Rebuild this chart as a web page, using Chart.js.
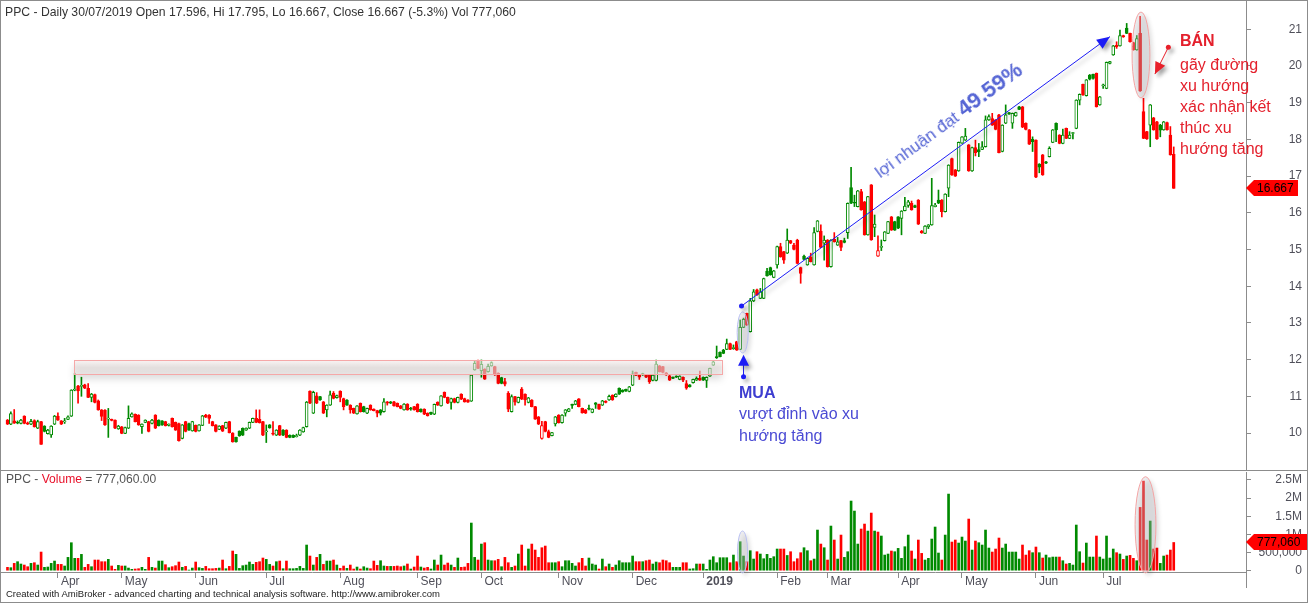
<!DOCTYPE html>
<html>
<head>
<meta charset="utf-8">
<script src="https://cdn.jsdelivr.net/npm/chart.js@4.4.1/dist/chart.umd.min.js"></script>
<style>
  body { margin: 0; background: #fff; }
  #wrap { position: relative; width: 1308px; height: 603px; overflow: hidden; background: #fff;
          font-family: Arial, "Liberation Sans", sans-serif; }
  #wrap canvas { position: absolute; left: 0; }
  #priceCanvas { top: 0; }
  #volCanvas { top: 471px; }
  #frame { position: absolute; left: 0; top: 0; width: 1308px; height: 603px; box-sizing: border-box;
           border: 1px solid #8c8c8c; pointer-events: none; }
  .txt { position: absolute; white-space: nowrap; }
  #hdr { left: 5px; top: 5px; font-size: 12.2px; line-height: 14px; color: #333; }
  #volTitle { left: 6px; top: 472px; font-size: 12.1px; line-height: 14px; color: #555; }
  #volTitle b { font-weight: normal; color: #e8102a; }
  #footer { left: 6px; top: 589px; font-size: 9.5px; line-height: 10px; color: #222; }
  #gain { left: 885px; top: 157px; line-height: 26px; color: #5464d4; transform: rotate(-36.3deg); transform-origin: 0 100%; }
  #gain .g1 { font-size: 17px; }
  #gain .g2 { font-size: 22px; font-weight: bold; }
  #mua { left: 739px; top: 384px; font-size: 16px; line-height: 18px; font-weight: bold; color: #3d3dd0; }
  #muaTxt { left: 739px; top: 403px; font-size: 16px; line-height: 22px; color: #4a4ad4; }
  #ban { left: 1180px; top: 32px; font-size: 16px; line-height: 18px; font-weight: bold; color: #e4202c; }
  #banTxt { left: 1180px; top: 54px; font-size: 16px; line-height: 21px; color: #e4202c; }
</style>
</head>
<body>
<div id="wrap">
  <canvas id="priceCanvas" width="1308" height="471"></canvas>
  <canvas id="volCanvas" width="1308" height="132"></canvas>
  <div class="txt" id="hdr">PPC - Daily 30/07/2019 Open 17.596, Hi 17.795, Lo 16.667, Close 16.667 (-5.3%) Vol 777,060</div>
  <div class="txt" id="volTitle">PPC - <b>Volume</b> = 777,060.00</div>
  <div class="txt" id="footer">Created with AmiBroker - advanced charting and technical analysis software. http://www.amibroker.com</div>
  <div class="txt" id="gain"><span class="g1">lợi nhuận đạt </span><span class="g2">49.59%</span></div>
  <div class="txt" id="mua">MUA</div>
  <div class="txt" id="muaTxt">vượt đỉnh vào xu<br>hướng tăng</div>
  <div class="txt" id="ban">BÁN</div>
  <div class="txt" id="banTxt">gãy đường<br>xu hướng<br>xác nhận kết<br>thúc xu<br>hướng tăng</div>
  <div id="frame"></div>
</div>
<script>
// PPC daily, 12/03/2018 .. 30/07/2019 (one entry per trading day)
const opens = [
  10.35,10.24,10.33,10.30,10.26,10.46,10.28,10.24,10.34,10.13,
  10.31,10.19,9.98,9.95,10.24,10.46,10.33,10.30,10.37,10.46,
  11.17,11.28,11.27,11.31,11.22,10.97,11.05,10.88,10.63,10.62,
  10.38,10.37,10.35,10.11,10.17,9.99,10.13,10.44,10.51,10.49,
  10.17,10.29,10.31,10.26,10.49,10.35,10.33,10.31,10.21,10.40,
  10.29,10.26,9.85,10.31,10.26,10.06,10.21,10.06,10.21,10.49,
  10.49,10.31,10.22,10.10,10.20,10.13,10.31,10.00,9.88,10.05,
  10.13,10.08,10.13,10.29,10.40,10.37,10.31,10.03,10.22,10.00,
  9.94,10.20,10.08,10.08,9.94,9.94,9.90,9.94,10.03,10.17,
  11.14,10.54,11.01,10.99,10.85,10.63,10.76,11.08,10.96,11.14,
  10.94,10.90,10.76,10.67,10.52,10.81,10.72,10.54,10.76,10.65,
  10.61,10.63,10.58,10.85,10.85,10.85,10.81,10.74,10.63,10.79,
  10.68,10.72,10.78,10.65,10.65,10.54,10.56,10.51,10.84,10.74,
  11.11,10.97,10.83,10.94,10.83,11.06,10.94,10.90,10.87,11.72,
  11.96,11.70,11.74,11.67,11.83,11.81,11.63,11.51,11.40,11.08,
  10.58,10.99,10.83,11.20,11.06,10.83,10.90,10.72,10.44,9.85,
  10.31,10.04,9.93,10.25,10.49,10.28,10.54,10.59,10.78,10.78,
  10.93,10.67,10.63,10.67,10.56,10.82,10.78,10.76,10.87,10.90,
  11.03,10.99,11.22,11.17,11.19,11.13,11.30,11.65,11.58,11.62,
  11.57,11.58,11.43,11.43,11.83,11.81,11.64,11.56,11.52,11.55,
  11.46,11.52,11.35,11.31,11.37,11.44,11.49,11.52,11.43,11.55,
  11.85,12.08,12.20,12.26,12.28,12.44,12.30,12.49,12.28,12.88,
  13.26,12.76,13.60,13.90,13.67,13.67,14.41,14.51,14.24,14.58,
  15.08,14.94,14.90,15.24,15.12,15.26,14.51,14.82,14.58,14.79,
  14.58,15.49,15.50,15.17,15.26,14.53,15.28,15.12,15.24,15.24,
  15.46,16.69,16.28,16.17,16.58,16.30,15.40,16.76,15.60,14.82,
  15.06,15.24,15.44,15.89,15.76,15.89,15.85,16.06,16.20,16.26,
  16.20,16.35,15.50,15.44,15.62,15.67,16.17,16.35,16.35,16.03,
  16.67,17.48,17.17,17.14,17.90,17.98,17.85,17.14,17.78,17.72,
  17.73,17.80,18.53,18.57,18.53,18.67,17.67,18.44,18.73,18.44,
  18.64,18.89,18.89,18.44,18.26,18.00,17.98,17.33,17.58,17.39,
  17.53,17.92,18.44,18.12,17.89,18.30,18.03,18.16,18.30,19.07,
  19.50,19.19,19.75,19.77,19.80,18.94,19.46,19.39,20.07,20.30,
  20.56,20.55,20.83,21.03,20.89,20.64,20.44,20.89,18.76,18.21,
  18.39,18.59,18.48,18.39,18.26,18.46,18.12,17.596
];
const highs = [
  10.37,10.58,10.64,10.33,10.37,10.47,10.30,10.37,10.36,10.35,
  10.32,10.20,10.10,10.20,10.48,10.55,10.34,10.40,10.47,11.18,
  11.63,11.30,11.52,11.33,11.35,11.08,11.06,10.90,10.64,10.64,
  10.67,10.38,10.36,10.21,10.18,10.16,10.74,10.55,10.52,10.50,
  10.25,10.36,10.32,10.37,10.50,10.36,10.34,10.32,10.25,10.41,
  10.30,10.27,10.23,10.32,10.27,10.32,10.22,10.23,10.48,10.51,
  10.50,10.32,10.23,10.20,10.21,10.30,10.32,10.01,9.89,10.06,
  10.14,10.14,10.30,10.41,10.63,10.63,10.32,10.22,10.23,10.31,
  10.09,10.21,10.09,10.09,9.95,9.95,9.97,10.09,10.16,10.86,
  11.15,11.14,11.10,11.00,10.86,10.77,11.14,11.13,11.03,11.15,
  10.95,10.91,10.77,10.68,10.75,10.82,10.73,10.68,10.77,10.66,
  10.62,10.64,10.94,10.86,10.86,10.86,10.82,10.75,10.80,10.80,
  10.70,10.73,10.80,10.66,10.66,10.55,10.57,10.79,10.85,11.02,
  11.12,10.98,10.95,10.95,10.98,11.07,10.95,10.91,11.59,11.96,
  11.99,11.99,11.75,11.88,11.94,11.82,11.64,11.52,11.49,11.13,
  11.04,11.00,10.98,11.24,11.07,10.97,10.91,10.73,10.45,10.32,
  10.32,10.08,10.02,10.45,10.50,10.50,10.64,10.67,10.79,10.89,
  10.94,10.68,10.64,10.76,10.66,10.83,10.79,10.89,10.88,11.03,
  11.04,11.07,11.23,11.18,11.20,11.27,11.69,11.66,11.59,11.63,
  11.58,11.59,11.59,11.99,11.84,11.82,11.65,11.57,11.53,11.56,
  11.56,11.53,11.43,11.32,11.47,11.53,11.69,11.53,11.53,11.77,
  11.96,12.37,12.21,12.28,12.56,12.45,12.40,12.50,13.08,13.13,
  13.27,13.67,13.91,13.92,13.94,14.22,14.49,14.52,14.43,15.09,
  15.17,14.95,15.56,15.25,15.17,15.28,14.52,14.85,14.77,14.90,
  15.60,15.79,15.67,15.37,15.27,15.27,15.46,15.33,15.25,15.31,
  16.27,17.24,16.48,16.61,16.64,16.31,16.45,16.77,15.94,15.37,
  15.26,15.49,15.77,15.90,15.77,15.90,16.06,16.42,16.34,16.32,
  16.21,16.36,15.52,15.65,15.68,16.94,16.26,16.62,16.36,16.52,
  17.31,17.49,17.18,17.93,18.08,18.30,17.86,17.79,17.98,17.89,
  17.94,18.64,18.67,18.71,18.54,18.68,18.40,18.94,18.74,18.72,
  18.74,18.90,18.90,18.45,18.27,18.07,17.99,17.34,17.59,17.40,
  17.80,18.27,18.45,18.13,18.28,18.31,18.21,18.19,19.08,19.24,
  19.51,19.63,19.77,19.78,19.81,19.17,19.51,20.11,20.13,20.56,
  20.66,20.98,20.84,21.16,20.90,20.65,20.83,21.35,19.12,18.22,
  18.95,18.60,18.49,18.41,18.49,18.47,18.35,17.795
];
const lows = [
  10.23,10.23,10.26,10.25,10.25,10.25,10.23,10.23,10.16,10.12,
  9.69,10.03,9.97,9.88,10.23,10.34,10.23,10.26,10.36,10.45,
  11.15,10.81,11.00,11.21,10.96,10.85,10.82,10.62,10.34,10.21,
  9.88,10.33,10.12,10.10,9.98,9.98,10.12,10.43,10.30,10.21,
  9.99,10.28,10.03,10.25,10.12,10.19,10.21,10.19,10.19,10.16,
  10.07,9.78,9.84,10.03,10.07,10.05,10.03,10.05,10.20,10.42,
  10.26,10.19,10.03,10.09,10.04,10.12,10.00,9.75,9.75,9.91,
  9.93,10.07,10.12,10.28,10.28,10.27,9.93,9.74,10.13,9.94,
  9.93,9.93,9.93,9.87,9.87,9.87,9.89,9.93,10.02,10.16,
  10.80,10.53,10.80,10.89,10.53,10.44,10.75,10.93,10.95,10.85,
  10.63,10.75,10.54,10.53,10.51,10.57,10.57,10.53,10.62,10.60,
  10.44,10.49,10.57,10.76,10.80,10.73,10.71,10.66,10.62,10.62,
  10.62,10.62,10.57,10.57,10.50,10.46,10.50,10.50,10.75,10.73,
  10.96,10.80,10.65,10.82,10.82,10.91,10.84,10.83,10.86,11.71,
  11.75,11.52,11.46,11.66,11.82,11.57,11.34,11.34,11.28,10.58,
  10.57,10.76,10.82,10.91,10.76,10.82,10.71,10.37,10.23,9.83,
  10.03,9.87,9.92,10.19,10.27,10.27,10.46,10.58,10.67,10.77,
  10.71,10.54,10.53,10.63,10.55,10.67,10.64,10.75,10.82,10.89,
  10.89,10.98,11.05,11.11,11.13,11.12,11.29,11.56,11.46,11.57,
  11.51,11.35,11.42,11.42,11.66,11.64,11.57,11.43,11.48,11.51,
  11.45,11.40,11.19,11.25,11.36,11.43,11.43,11.43,11.24,11.54,
  11.84,12.03,12.07,12.16,12.27,12.27,12.28,12.25,12.27,12.87,
  12.93,12.75,13.58,13.75,13.66,13.66,14.27,14.30,14.23,14.49,
  14.79,14.62,14.89,15.16,14.99,14.61,14.08,14.72,14.57,14.66,
  14.57,15.48,15.05,14.71,14.52,14.52,15.20,15.11,14.97,15.18,
  15.30,16.25,16.17,16.16,16.07,15.39,15.39,15.25,15.35,14.81,
  14.97,15.23,15.43,15.52,15.52,15.57,15.40,16.05,16.15,16.07,
  16.14,15.68,15.44,15.43,15.57,15.66,16.16,16.25,15.89,16.02,
  16.44,17.02,16.99,17.13,17.89,17.97,17.13,17.13,17.55,17.53,
  17.72,17.79,18.52,18.38,18.26,17.63,17.66,18.43,18.68,18.30,
  18.63,18.81,18.32,18.26,17.86,17.67,16.96,17.09,17.02,17.34,
  17.52,17.91,17.94,17.88,17.88,18.02,18.02,18.01,18.29,18.94,
  19.20,19.18,19.62,19.64,18.88,18.93,19.39,19.38,20.06,20.29,
  20.48,20.54,20.78,20.88,20.65,20.43,20.43,19.31,18.02,18.00,
  17.80,18.25,18.00,18.07,18.25,18.25,17.57,16.667
];
const closes = [
  10.24,10.53,10.27,10.27,10.35,10.26,10.24,10.32,10.17,10.31,
  9.69,10.04,10.08,10.19,10.46,10.35,10.24,10.33,10.44,11.17,
  11.20,11.15,11.29,11.22,10.97,11.06,10.83,10.63,10.45,10.22,
  10.40,10.34,10.13,10.19,9.99,10.15,10.40,10.52,10.31,10.22,
  10.24,10.35,10.04,10.35,10.13,10.20,10.22,10.20,10.24,10.17,
  10.08,9.79,10.22,10.04,10.08,10.31,10.04,10.22,10.47,10.43,
  10.40,10.20,10.04,10.19,10.05,10.29,10.01,9.76,9.76,9.92,
  9.94,10.13,10.29,10.40,10.29,10.28,9.94,10.04,10.14,9.97,
  10.08,9.94,9.94,9.88,9.88,9.88,9.92,10.08,10.15,10.84,
  10.81,11.11,10.81,10.90,10.54,10.76,11.04,10.94,11.02,10.97,
  10.72,10.76,10.63,10.54,10.74,10.58,10.58,10.67,10.63,10.61,
  10.54,10.54,10.85,10.81,10.81,10.74,10.72,10.67,10.79,10.63,
  10.65,10.63,10.58,10.58,10.51,10.47,10.51,10.78,10.76,11.01,
  10.97,10.81,10.94,10.83,10.97,10.92,10.85,10.84,11.58,11.90,
  11.76,11.87,11.47,11.82,11.92,11.58,11.35,11.35,11.33,10.65,
  10.99,10.84,10.97,10.92,10.90,10.96,10.72,10.38,10.24,10.20,
  10.04,9.88,10.01,10.44,10.28,10.49,10.63,10.66,10.75,10.88,
  10.72,10.55,10.54,10.65,10.65,10.78,10.65,10.88,10.83,11.00,
  10.90,11.06,11.06,11.12,11.14,11.26,11.61,11.57,11.52,11.58,
  11.52,11.40,11.58,11.88,11.67,11.65,11.58,11.44,11.49,11.52,
  11.55,11.44,11.22,11.26,11.46,11.49,11.44,11.44,11.52,11.76,
  11.94,12.05,12.08,12.17,12.44,12.28,12.33,12.26,12.88,13.10,
  12.94,13.60,13.85,13.76,13.85,14.21,14.28,14.31,14.42,15.08,
  14.80,14.71,15.26,15.17,15.00,14.62,14.35,14.73,14.76,14.67,
  15.46,15.78,15.06,15.26,14.53,15.26,15.21,15.21,15.06,15.19,
  16.26,16.26,16.26,16.60,16.08,15.40,16.44,15.26,15.69,14.97,
  15.08,15.48,15.76,15.53,15.53,15.58,16.05,16.18,16.30,16.08,
  16.15,15.69,15.46,15.64,15.67,16.20,16.21,16.26,16.03,16.51,
  17.30,17.03,17.00,17.92,18.07,18.09,17.14,17.78,17.64,17.66,
  17.80,18.53,18.62,18.39,18.27,17.64,18.39,18.67,18.69,18.71,
  18.73,18.82,18.33,18.27,17.87,17.94,16.97,17.24,17.03,17.35,
  17.76,18.26,18.26,17.89,18.12,18.03,18.12,18.17,19.07,19.23,
  19.21,19.62,19.64,19.66,18.89,19.16,19.49,20.10,20.12,20.55,
  20.53,20.83,20.79,20.89,20.66,20.44,20.75,19.32,18.03,18.01,
  18.94,18.26,18.01,18.25,18.48,18.26,17.58,16.667
];
// volume in thousands of shares
const volumes = [
  92,83,202,248,184,156,110,202,220,156,
  514,92,101,202,266,174,174,129,367,771,
  340,340,450,92,174,110,294,294,248,248,
  312,129,37,147,129,129,73,37,46,55,
  92,37,367,92,73,266,266,165,83,110,
  138,239,92,119,18,73,239,83,64,119,
  55,55,64,73,294,55,119,542,450,64,
  138,156,239,174,230,248,349,312,174,129,
  248,266,55,266,55,55,64,119,64,707,
  404,156,367,450,174,266,266,294,156,64,
  129,64,156,46,101,46,110,73,55,266,
  147,275,129,119,119,119,129,110,129,184,
  46,101,404,101,73,92,46,294,156,431,
  156,211,156,92,349,92,101,202,1313,367,
  294,734,771,294,275,275,312,110,367,220,
  92,129,459,707,129,597,734,569,367,633,
  679,220,220,220,248,110,275,275,202,129,
  220,340,129,349,184,156,46,321,110,184,
  92,156,275,220,220,220,404,248,248,248,
  275,294,184,239,220,294,275,220,92,92,
  92,220,220,46,55,184,184,184,37,294,
  386,220,358,358,358,220,431,248,799,404,
  248,551,321,523,459,330,450,340,386,597,
  597,597,420,523,248,330,496,633,551,275,
  321,1120,734,633,294,1230,845,321,982,367,
  523,1919,1643,734,1148,1285,1092,1588,1092,1065,
  955,431,459,542,523,615,340,661,982,542,
  321,845,477,294,340,872,1203,487,294,982,
  2111,789,845,762,927,817,1423,569,817,771,
  707,1120,624,514,597,900,624,734,514,514,
  514,321,707,431,551,496,652,496,349,431,
  358,376,376,376,275,184,202,156,1258,523,
  211,762,376,376,955,376,321,955,349,597,
  496,459,312,404,422,340,275,1744,2469,845,
  1368,597,624,202,404,431,569,777.06
];

// axis labels
const priceTicks = [10, 11, 12, 13, 14, 15, 16, 17, 18, 19, 20, 21];
const volTicks = [0, 500, 1000, 1500, 2000, 2500];
const volTickLabels = ['0', '500,000', '1M', '1.5M', '2M', '2.5M'];
const monthStarts = [15, 34, 56, 77, 99, 122, 141, 164, 186, 207, 229, 244, 265, 284, 306, 326];
const monthLabels = ['Apr', 'May', 'Jun', 'Jul', 'Aug', 'Sep', 'Oct', 'Nov', 'Dec', '2019', 'Feb', 'Mar', 'Apr', 'May', 'Jun', 'Jul'];

// drawings on the chart, in bar index / price / volume units
const marks = {
  zone: { x0: 19.8, x1: 212.5, p0: 11.60, p1: 11.98 },
  trend: { x0: 218.4, p0: 13.46, x1: 328.0, p1: 20.80 },
  buyOval: { x0: 217.1, x1: 220.4, p0: 12.18, p1: 13.30 },
  buyArrow: { x: 219.0, pTip: 12.13, pBase: 11.53 },
  sellOval: { x0: 334.6, x1: 339.9, p0: 19.13, p1: 21.47 },
  sellArrow: { x0: 345.4, p0: 20.51, x1: 341.4, p1: 19.78 },
  volBuyOval: { x0: 217.2, x1: 220.2, v0: -60, v1: 1094 },
  volSellOval: { x0: 335.5, x1: 341.7, v0: -60, v1: 2590 }
};

const GREEN = '#008a00';
const RED = '#ff0000';
const AXIS = '#8c8c8c';
const LABEL = '#50505a';
const FONT = 'Arial, "Liberation Sans", sans-serif';
const X_MIN = -1.93, X_MAX = 368.5;

Chart.defaults.font.family = FONT;

const n = closes.length;
const idx = closes.map((c, i) => i);
const candleColor = closes.map((c, i) => c >= (i ? closes[i - 1] : opens[i]) ? GREEN : RED);
const bodyFill = closes.map((c, i) => c > opens[i] ? '#ffffff' : candleColor[i]);
const bodyData = idx.map(i => ({ x: i, y: [Math.min(opens[i], closes[i]), Math.max(opens[i], closes[i])] }));
const wickData = idx.map(i => ({ x: i, y: [lows[i], highs[i]] }));
const volData = idx.map(i => ({ x: i, y: volumes[i] }));

// right axis: 56px wide box ending 6px before the canvas edge, labels right-aligned to it
function fixV(width) {
  return s => { s.width = width; s.paddingTop = 0; s.paddingBottom = 0; };
}
function fixH(height) {
  return s => { s.height = height; s.paddingLeft = 0; s.paddingRight = 0; };
}

function arrowHead(ctx, x0, y0, x1, y1, len, wid) {
  const a = Math.atan2(y1 - y0, x1 - x0);
  const bx = x1 - len * Math.cos(a), by = y1 - len * Math.sin(a);
  ctx.beginPath();
  ctx.moveTo(x1, y1);
  ctx.lineTo(bx + wid / 2 * Math.sin(a), by - wid / 2 * Math.cos(a));
  ctx.lineTo(bx - wid / 2 * Math.sin(a), by + wid / 2 * Math.cos(a));
  ctx.closePath();
  ctx.fill();
}

function shadow(ctx, on) {
  ctx.shadowColor = on ? 'rgba(0,0,0,0.35)' : 'transparent';
  ctx.shadowBlur = on ? 4 : 0;
  ctx.shadowOffsetX = on ? 3 : 0;
  ctx.shadowOffsetY = on ? 3 : 0;
}

function oval(ctx, x, y, o, k0, k1, stroke) {
  const l = x.getPixelForValue(o.x0), r = x.getPixelForValue(o.x1);
  const t = y.getPixelForValue(o[k1]), b = y.getPixelForValue(o[k0]);
  ctx.save();
  shadow(ctx, true);
  ctx.beginPath();
  ctx.ellipse((l + r) / 2, (t + b) / 2, (r - l) / 2, (b - t) / 2, 0, 0, Math.PI * 2);
  ctx.fillStyle = 'rgba(200,200,205,0.35)';
  ctx.fill();
  shadow(ctx, false);
  ctx.strokeStyle = stroke;
  ctx.lineWidth = 1;
  ctx.stroke();
  ctx.restore();
}

const priceMarks = {
  id: 'priceMarks',
  afterDatasetsDraw(chart) {
    const { ctx, scales: { x, y } } = chart;
    const z = marks.zone;
    const zl = x.getPixelForValue(z.x0), zr = x.getPixelForValue(z.x1);
    const zt = y.getPixelForValue(z.p1), zb = y.getPixelForValue(z.p0);
    ctx.save();
    ctx.shadowColor = 'rgba(0,0,0,0.22)';
    ctx.shadowBlur = 7;
    ctx.shadowOffsetY = 5;
    const g = ctx.createLinearGradient(0, zt, 0, zb);
    g.addColorStop(0, 'rgba(246,236,236,0.6)');
    g.addColorStop(0.5, 'rgba(226,218,216,0.6)');
    g.addColorStop(1, 'rgba(236,230,229,0.6)');
    ctx.fillStyle = g;
    ctx.fillRect(zl, zt, zr - zl, zb - zt);
    shadow(ctx, false);
    ctx.strokeStyle = '#f5a8a8';
    ctx.lineWidth = 1;
    ctx.strokeRect(Math.round(zl) + 0.5, Math.round(zt) + 0.5, Math.round(zr - zl), Math.round(zb - zt));
    ctx.restore();

    oval(ctx, x, y, marks.buyOval, 'p0', 'p1', '#b9c0f2');
    oval(ctx, x, y, marks.sellOval, 'p0', 'p1', '#f4a4a4');

    // trend line to the top
    const t = marks.trend;
    const tx0 = x.getPixelForValue(t.x0), ty0 = y.getPixelForValue(t.p0);
    const tx1 = x.getPixelForValue(t.x1), ty1 = y.getPixelForValue(t.p1);
    ctx.save();
    shadow(ctx, true);
    ctx.strokeStyle = '#1c1cf5';
    ctx.fillStyle = '#1c1cf5';
    ctx.lineWidth = 1;
    ctx.beginPath();
    ctx.moveTo(tx0, ty0);
    ctx.lineTo(tx1, ty1);
    ctx.stroke();
    arrowHead(ctx, tx0, ty0, tx1, ty1, 13, 11);
    ctx.beginPath();
    ctx.arc(tx0, ty0, 2.5, 0, Math.PI * 2);
    ctx.fill();

    // buy arrow
    const ba = marks.buyArrow;
    const bx = x.getPixelForValue(ba.x), bt = y.getPixelForValue(ba.pTip), bb = y.getPixelForValue(ba.pBase);
    ctx.beginPath();
    ctx.moveTo(bx, bb);
    ctx.lineTo(bx, bt + 8);
    ctx.stroke();
    arrowHead(ctx, bx, bb, bx, bt, 11, 11);
    ctx.beginPath();
    ctx.arc(bx, bb, 2.5, 0, Math.PI * 2);
    ctx.fill();

    // sell arrow
    const sa = marks.sellArrow;
    const sx0 = x.getPixelForValue(sa.x0), sy0 = y.getPixelForValue(sa.p0);
    const sx1 = x.getPixelForValue(sa.x1), sy1 = y.getPixelForValue(sa.p1);
    ctx.strokeStyle = '#e8202a';
    ctx.fillStyle = '#e8202a';
    ctx.beginPath();
    ctx.moveTo(sx0, sy0);
    ctx.lineTo(sx1, sy1);
    ctx.stroke();
    arrowHead(ctx, sx0, sy0, sx1, sy1, 12, 11);
    ctx.beginPath();
    ctx.arc(sx0, sy0, 2.5, 0, Math.PI * 2);
    ctx.fill();
    ctx.restore();
  },
  afterDraw(chart) {
    const { ctx, scales: { y }, chartArea } = chart;
    const last = closes[n - 1];
    const yc = Math.round(y.getPixelForValue(last));
    const ax = chartArea.right;
    ctx.save();
    ctx.fillStyle = RED;
    ctx.beginPath();
    ctx.moveTo(ax, yc);
    ctx.lineTo(ax + 8, yc - 8);
    ctx.lineTo(ax + 52, yc - 8);
    ctx.lineTo(ax + 52, yc + 8);
    ctx.lineTo(ax + 8, yc + 8);
    ctx.closePath();
    ctx.fill();
    ctx.fillStyle = '#000';
    ctx.font = '12px ' + FONT;
    ctx.textBaseline = 'middle';
    ctx.fillText(last.toFixed(3), ax + 11, yc + 1);
    ctx.fillStyle = AXIS;
    ctx.fillRect(0, chart.height - 1, chart.width, 1);
    ctx.restore();
  }
};

const volMarks = {
  id: 'volMarks',
  afterDatasetsDraw(chart) {
    const { ctx, scales: { x, y } } = chart;
    oval(ctx, x, y, marks.volBuyOval, 'v0', 'v1', '#b9c0f2');
    oval(ctx, x, y, marks.volSellOval, 'v0', 'v1', '#f4a4a4');
  },
  afterDraw(chart) {
    const { ctx, scales: { y }, chartArea } = chart;
    const last = volumes[n - 1];
    const yc = Math.round(y.getPixelForValue(last));
    const ax = chartArea.right;
    ctx.save();
    ctx.fillStyle = AXIS;
    ctx.fillRect(ax, chartArea.bottom, 1, 16);
    ctx.fillStyle = RED;
    ctx.beginPath();
    ctx.moveTo(ax, yc);
    ctx.lineTo(ax + 8, yc - 8);
    ctx.lineTo(ax + 62, yc - 8);
    ctx.lineTo(ax + 62, yc + 8);
    ctx.lineTo(ax + 8, yc + 8);
    ctx.closePath();
    ctx.fill();
    ctx.fillStyle = '#000';
    ctx.font = '12px ' + FONT;
    ctx.textBaseline = 'middle';
    ctx.fillText(Math.round(last * 1000).toLocaleString('en-US'), ax + 11, yc + 1);
    ctx.restore();
  }
};

new Chart(document.getElementById('priceCanvas'), {
  type: 'bar',
  data: {
    datasets: [
      {
        label: 'body',
        data: bodyData,
        backgroundColor: bodyFill,
        borderColor: candleColor,
        borderWidth: 1,
        borderSkipped: false,
        barThickness: 3,
        minBarLength: 1,
        grouped: false,
        order: 0
      },
      {
        label: 'wick',
        data: wickData,
        backgroundColor: candleColor,
        borderWidth: 0,
        barThickness: 1,
        minBarLength: 1,
        grouped: false,
        order: 1
      }
    ]
  },
  options: {
    responsive: false,
    animation: false,
    events: [],
    layout: { padding: { left: 1, top: 1, right: 6, bottom: 1 } },
    plugins: { legend: { display: false }, tooltip: { enabled: false } },
    scales: {
      x: { type: 'linear', display: false, min: X_MIN, max: X_MAX, offset: false, grid: { offset: false } },
      y: {
        position: 'right',
        min: 8.992,
        max: 21.771,
        afterFit: fixV(56),
        afterBuildTicks: s => { s.ticks = priceTicks.map(v => ({ value: v })); },
        grid: { drawOnChartArea: false, tickLength: 5, color: AXIS },
        border: { color: AXIS },
        ticks: { color: LABEL, font: { size: 12 }, crossAlign: 'far', padding: 4, callback: v => String(v) }
      }
    }
  },
  plugins: [priceMarks]
});

new Chart(document.getElementById('volCanvas'), {
  type: 'bar',
  data: {
    datasets: [
      {
        label: 'volume',
        data: volData,
        backgroundColor: candleColor,
        borderWidth: 0,
        barThickness: 2,
        grouped: false
      }
    ]
  },
  options: {
    responsive: false,
    animation: false,
    events: [],
    layout: { padding: { left: 1, top: 1, right: 6, bottom: 0 } },
    plugins: { legend: { display: false }, tooltip: { enabled: false } },
    scales: {
      x: {
        type: 'linear',
        position: 'bottom',
        min: X_MIN,
        max: X_MAX,
        offset: false,
        afterFit: fixH(31),
        afterBuildTicks: s => { s.ticks = monthStarts.map(v => ({ value: v })); },
        grid: { drawOnChartArea: false, tickLength: 6, color: AXIS, offset: false },
        border: { color: AXIS },
        ticks: {
          align: 'start',
          labelOffset: 3,
          padding: -4,
          maxRotation: 0,
          autoSkip: false,
          color: LABEL,
          font: c => ({ size: 12, weight: c.tick && c.tick.value === 207 ? 'bold' : 'normal' }),
          callback: v => monthLabels[monthStarts.indexOf(v)]
        }
      },
      y: {
        position: 'right',
        min: -36,
        max: 2719,
        afterFit: fixV(56),
        afterBuildTicks: s => { s.ticks = volTicks.map(v => ({ value: v })); },
        grid: { drawOnChartArea: false, tickLength: 5, color: AXIS },
        border: { color: AXIS },
        ticks: { color: LABEL, font: { size: 12 }, crossAlign: 'far', padding: 4, callback: v => volTickLabels[volTicks.indexOf(v)] }
      }
    }
  },
  plugins: [volMarks]
});
</script>
</body>
</html>
